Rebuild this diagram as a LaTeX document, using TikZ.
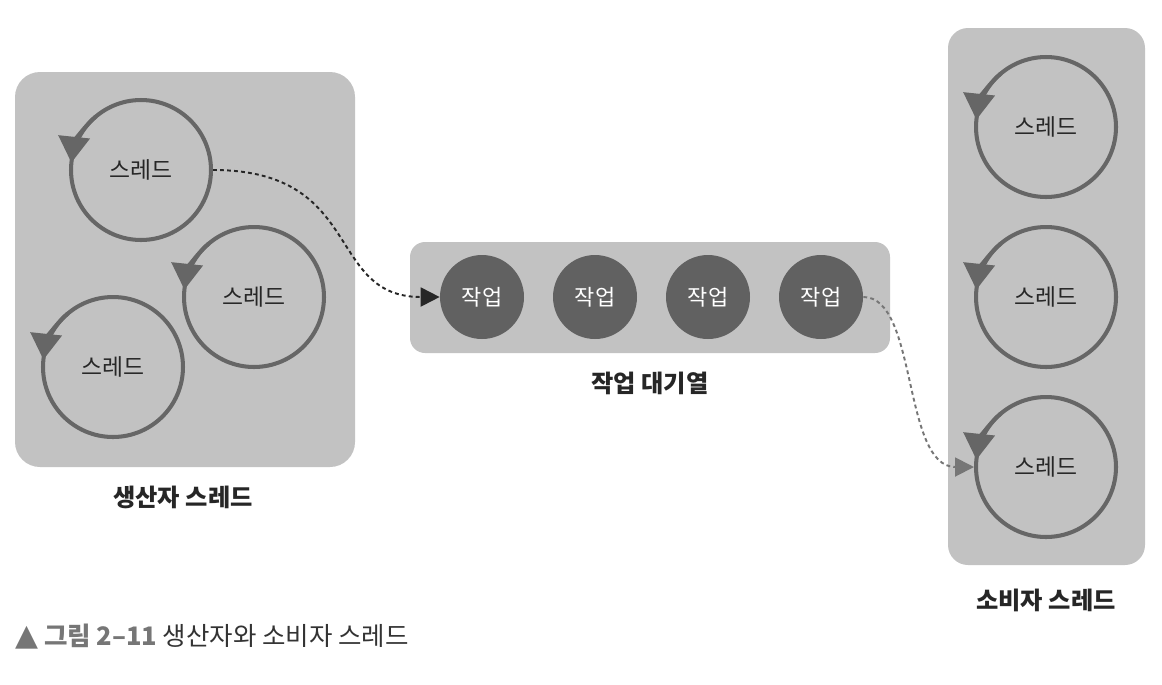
\documentclass[tikz,border=0pt]{standalone}
\usepackage{fontspec}
\setmainfont{Noto Sans CJK KR}
\newfontfamily\symfont{DejaVu Sans}
\usetikzlibrary{arrows.meta}

\definecolor{boxgray}{HTML}{C2C2C2}
\definecolor{loopgray}{HTML}{666666}
\definecolor{jobgray}{HTML}{616161}
\definecolor{capgray}{HTML}{767676}

\tikzset{
    thread/.style={circle,draw=loopgray,line width=2.3pt,minimum size=2.8cm,inner sep=0pt,
        text=black!85,font=\fontsize{13}{15}\selectfont},
    job/.style={circle,fill=jobgray,minimum size=1.68cm,inner sep=0pt,
        text=white,font=\fontsize{12.5}{15}\selectfont},
    spin/.style={draw=loopgray,line width=2.3pt,-{Triangle[length=0.52cm,width=0.62cm]}},
    grouplabel/.style={font=\bfseries\fontsize{13.8}{16}\selectfont,text=black!85},
    handoff/.style={dashed,dash pattern=on 2.2pt off 1.8pt,line width=1.1pt}
}

\begin{document}
\begin{tikzpicture}[x=0.02cm,y=0.02cm]
    \useasboundingbox (0,0) rectangle (1162,-684);

    % Producer threads
    \fill[boxgray,rounded corners=0.5cm] (15,-72) rectangle (355,-467);
    \node[thread] (p1) at (141,-170) {스레드};
    \node[thread] (p2) at (254,-297) {스레드};
    \node[thread] (p3) at (113,-367) {스레드};
    \draw[spin] (p1.center) ++(130:1.4cm) arc[start angle=130,end angle=174,radius=1.4cm];
    \draw[spin] (p2.center) ++(130:1.4cm) arc[start angle=130,end angle=174,radius=1.4cm];
    \draw[spin] (p3.center) ++(130:1.4cm) arc[start angle=130,end angle=174,radius=1.4cm];
    \node[grouplabel] (plabel) at (183,-497) {생산자 스레드};

    % Task queue
    \fill[boxgray,rounded corners=0.3cm] (410,-242) rectangle (890,-353);
    \node[job] (j1) at (482,-297) {작업};
    \node[job] (j2) at (595,-297) {작업};
    \node[job] (j3) at (708,-297) {작업};
    \node[job] (j4) at (821,-297) {작업};
    \node[grouplabel] (qlabel) at (650,-383) {작업 대기열};

    % Consumer threads
    \fill[boxgray,rounded corners=0.4cm] (948,-28) rectangle (1145,-565);
    \node[thread] (c1) at (1046,-127) {스레드};
    \node[thread] (c2) at (1046,-297) {스레드};
    \node[thread] (c3) at (1046,-467) {스레드};
    \draw[spin] (c1.center) ++(130:1.4cm) arc[start angle=130,end angle=174,radius=1.4cm];
    \draw[spin] (c2.center) ++(130:1.4cm) arc[start angle=130,end angle=174,radius=1.4cm];
    \draw[spin] (c3.center) ++(130:1.4cm) arc[start angle=130,end angle=174,radius=1.4cm];
    \node[grouplabel] (clabel) at (1046,-600) {소비자 스레드};

    % Hand-off paths
    \draw[handoff,black!85,-{Triangle[length=0.38cm,width=0.38cm]}]
        (p1.east) .. controls (365,-170) and (325,-297) .. (j1.west);
    \draw[handoff,capgray,-{Triangle[length=0.38cm,width=0.38cm]}]
        (j4.east) .. controls (918,-297) and (902,-467) .. (c3.west);

    % Caption
    \node[anchor=west,inner sep=0pt,font=\fontsize{14.5}{17}\selectfont] (caption) at (15,-637)
        {\textcolor{capgray}{{\symfont\fontsize{17}{17}\selectfont ▲} \textbf{그림 2–11}} \textcolor{black!80}{생산자와 소비자 스레드}};
\end{tikzpicture}
\end{document}
